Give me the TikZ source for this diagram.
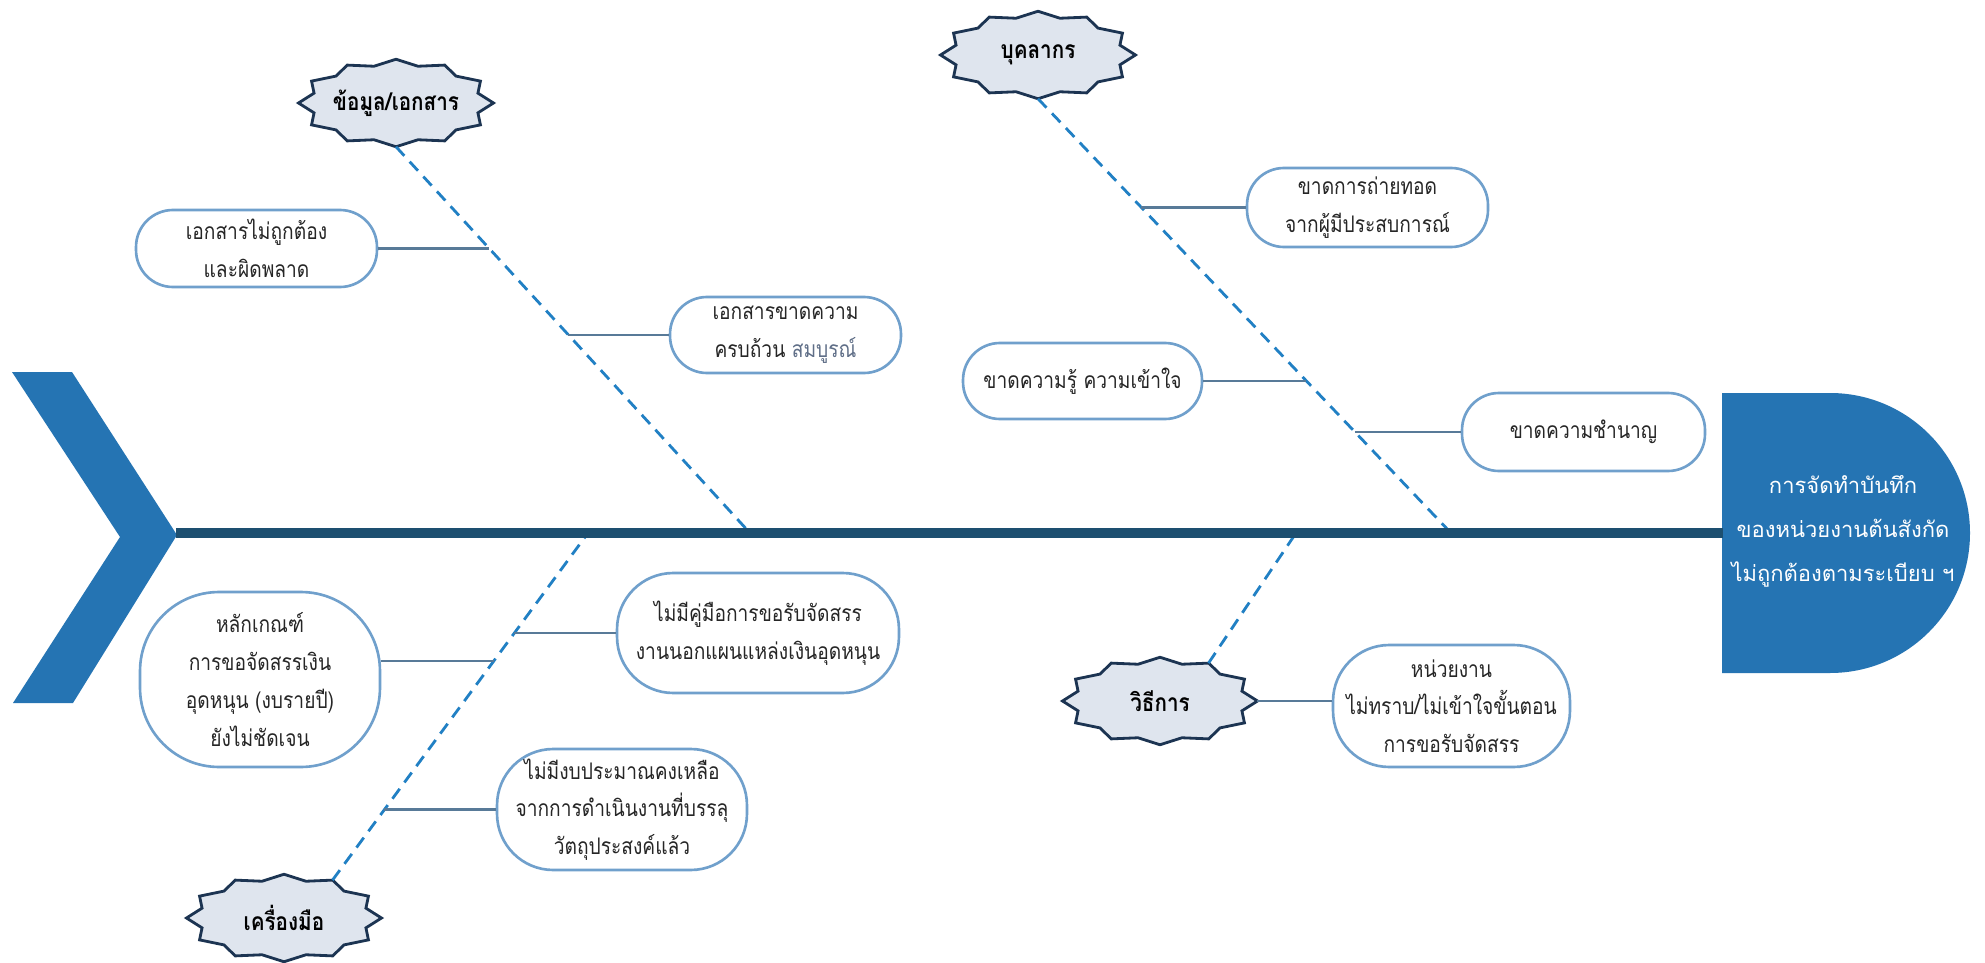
\documentclass[tikz,border=0pt]{standalone}
\usepackage{fontspec}
\newfontfamily\thaifont[Script=Thai]{Loma}
\newfontfamily\thainarrow[Script=Thai,FakeStretch=0.84]{Loma}
\usetikzlibrary{shapes.geometric,calc,backgrounds}
\tikzset{>=latex}
\definecolor{Scol}{RGB}{29,79,112}
\definecolor{Hcol}{RGB}{37,116,179}
\definecolor{Dcol}{RGB}{33,128,196}
\definecolor{Lcol}{RGB}{88,122,152}
\definecolor{Ccol}{RGB}{112,160,204}
\definecolor{Kcol}{RGB}{28,52,82}
\definecolor{Kfill}{RGB}{223,229,238}
\definecolor{Mcol}{RGB}{95,110,135}
\colorlet{Tcol}{black!85}
\tikzset{
    cause/.style={draw=Ccol, line width=1.5pt, fill=white, rounded corners=#1, align=center,
        inner sep=0pt, text=Tcol, font=\thainarrow\fontsize{13}{21.5}\selectfont},
    cause/.default=21pt,
    cat/.style={ellipse, inner sep=0pt, outer sep=0pt, minimum width=3.9cm, minimum height=1.75cm,
        font=\thainarrow\bfseries\fontsize{14}{16}\selectfont},
    bone/.style={Dcol, line width=1.6pt, dash pattern=on 7pt off 4.5pt},
    twig/.style={Lcol, line width=1.2pt},
    spine/.style={Scol, line width=6.2pt},
    starline/.style={fill=Kfill, draw=Kcol, line width=1.6pt, line join=miter}
}

\begin{document}
\begin{tikzpicture}[x=0.02cm, y=-0.02cm]
    \def\SA{97.5}   % star outer half width
    \def\SB{43.75}  % star outer half height
    \def\SI{0.87}   % inner radius of the star points
    \def\R{140}     % radius of the head

    \useasboundingbox (0,0) rectangle (1985,963);
    \begin{scope}[on background layer]
        \fill [white] (0,0) rectangle (1985,963);
    \end{scope}

    % tail and head
    \fill [Hcol] (12,372) -- (72,372) -- (177,535) -- (73,703) -- (13,703) -- (120,537) -- cycle;
    \fill [Hcol] (1722,393) -- (1830,393) arc[start angle=-90, end angle=90, radius=\R] -- (1722,673) -- cycle;
    \node [align=center, text=white, font=\thaifont\fontsize{12.5}{25}\selectfont] (head) at (1843,531)
        {การจัดทำบันทึก\\ของหน่วยงานต้นสังกัด\\ไม่ถูกต้องตามระเบียบ ฯ};

    \coordinate (tail) at (176,533);
    \coordinate (headL) at (1723,533);
    \coordinate (b1) at (750,533);
    \coordinate (b2) at (1451,533);
    \coordinate (b3) at (588,533);
    \coordinate (b4) at (1296,533);

    % categories
    \node [cat] (s1) at (396,103) {ข้อมูล/เอกสาร};
    \node [cat] (s2) at (1038,55) {บุคลากร};
    \node [cat] (s3) at (284,918) {เครื่องมือ};
    \node [cat] (s4) at (1160,701) {วิธีการ};
    \begin{scope}[on background layer]
        \foreach \n in {s1,s2,s3,s4}
            \filldraw [starline, shift={(\n.center)}] ({0}:{\SA} and {\SB})
                \foreach \k in {1,...,23} { -- ({\k*15}:{\SA*(1-(1-\SI)*mod(\k,2))} and {\SB*(1-(1-\SI)*mod(\k,2))}) } -- cycle;
    \end{scope}

    % causes
    \node [cause, minimum width=4.82cm, minimum height=1.54cm] (d1) at (256.5,248.5) {เอกสารไม่ถูกต้อง\\และผิดพลาด};
    \node [cause, minimum width=4.62cm, minimum height=1.52cm] (d2) at (785.5,335) {เอกสารขาดความ\\ครบถ้วน \textcolor{Mcol}{สมบูรณ์}};
    \node [cause, minimum width=4.82cm, minimum height=1.58cm] (p1) at (1367.5,207.5) {ขาดการถ่ายทอด\\จากผู้มีประสบการณ์};
    \node [cause, minimum width=4.78cm, minimum height=1.52cm] (p2) at (1082.5,381) {ขาดความรู้ ความเข้าใจ};
    \node [cause, minimum width=4.86cm, minimum height=1.56cm] (p3) at (1583.5,432) {ขาดความชำนาญ};
    \node [cause=45pt, minimum width=4.8cm, minimum height=3.5cm] (t1) at (260,679.5) {หลักเกณฑ์\\การขอจัดสรรเงิน\\อุดหนุน (งบรายปี)\\ยังไม่ชัดเจน};
    \node [cause=32pt, minimum width=5.64cm, minimum height=2.4cm] (t2) at (758,633) {ไม่มีคู่มือการขอรับจัดสรร\\งานนอกแผนแหล่งเงินอุดหนุน};
    \node [cause=32pt, minimum width=5cm, minimum height=2.42cm] (t3) at (622,809.5) {ไม่มีงบประมาณคงเหลือ\\จากการดำเนินงานที่บรรลุ\\วัตถุประสงค์แล้ว};
    \node [cause=32pt, minimum width=4.74cm, minimum height=2.44cm] (m1) at (1451.5,706) {หน่วยงาน\\ไม่ทราบ/ไม่เข้าใจขั้นตอน\\การขอรับจัดสรร};

    % bones
    \draw [bone] (s1.south) -- (b1);
    \draw [bone] (s2.south) -- (b2);
    \draw [bone] (s3.38) -- (b3);
    \draw [bone] (s4.38) -- (b4);
    \draw [spine] (tail) -- (headL);

    \coordinate (k1) at ($(s1.south)!0.263!(b1)$);
    \coordinate (k2) at ($(s1.south)!0.487!(b1)$);
    \coordinate (k3) at ($(s2.south)!0.250!(b2)$);
    \coordinate (k4) at ($(s2.south)!0.650!(b2)$);
    \coordinate (k5) at ($(s2.south)!0.767!(b2)$);
    \coordinate (k6) at ($(b3)!0.369!(s3.38)$);
    \coordinate (k7) at ($(b3)!0.288!(s3.38)$);
    \coordinate (k8) at ($(b3)!0.797!(s3.38)$);
    \coordinate (t1e) at ([yshift=10.5pt]t1.east);

    \draw [twig] (d1.east) -- (d1.east -| k1);
    \draw [twig] (k2 |- d2.west) -- (d2.west);
    \draw [twig] (k3 |- p1.west) -- (p1.west);
    \draw [twig] (p2.east) -- (p2.east -| k4);
    \draw [twig] (k5 |- p3.west) -- (p3.west);
    \draw [twig] (t1e) -- (t1e -| k6);
    \draw [twig] (k7 |- t2.west) -- (t2.west);
    \draw [twig] (k8 |- t3.west) -- (t3.west);
    \draw [twig] (s4.east) -- (s4.east -| m1.west);
\end{tikzpicture}
\end{document}
